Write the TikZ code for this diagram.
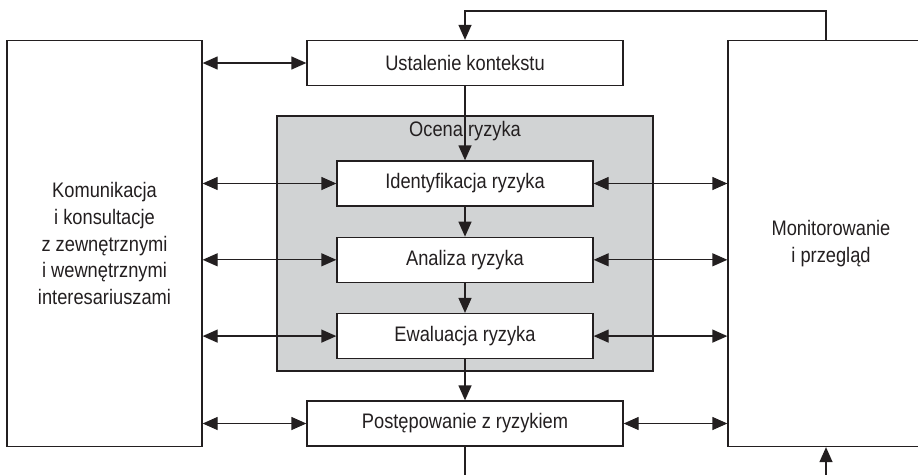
\documentclass[tikz,border=0pt]{standalone}
\usepackage{fontspec}
\setmainfont[FakeStretch=0.87]{Liberation Sans}
\usetikzlibrary{arrows.meta,positioning}
\definecolor{ramka}{RGB}{35,31,32}
\definecolor{ocenagray}{RGB}{209,211,212}

\begin{document}
\begin{tikzpicture}[x=1pt,y=-1pt,<->,>={Triangle[length=15pt,width=13pt]},
                    line width=1.3pt,draw=ramka,text=ramka,
                    font=\fontsize{21}{26.7}\selectfont]
    \tikzstyle{box}=[draw=ramka,fill=white,inner sep=0pt,align=center,
                     minimum width=256pt,minimum height=45pt]
    \clip (0,0) rectangle (918,474);

    \node[box,minimum width=195pt,minimum height=406pt] (kom) at (104.5,243.5)
        {Komunikacja\\i konsultacje\\z zewnętrznymi\\i wewnętrznymi\\interesariuszami};
    \node[box,minimum width=206pt,minimum height=406pt] (mon) at (831,243.5)
        {Monitorowanie\\i przegląd};
    \node[box,fill=ocenagray,minimum width=376pt,minimum height=255pt] (ocena) at (465,243.5) {};
    \node (ocenatxt) at (465,131) {Ocena ryzyka};

    \node[box,minimum width=316pt] (kontekst) at (465,63) {Ustalenie kontekstu};
    \node[box] (ident) at (465,183.5) {Identyfikacja ryzyka};
    \node[box] (analiza) [below=30pt of ident] {Analiza ryzyka};
    \node[box] (ewal) [below=30pt of analiza] {Ewaluacja ryzyka};
    \node[box,minimum width=316pt] (postep) at (465,423.5) {Postępowanie z ryzykiem};

    \coordinate (petla) at (826,11);
    \coordinate (dol) at (465,480);
    \coordinate (dolmon) at (826,480);

    % komunikacja
    \foreach \n in {kontekst,ident,analiza,ewal,postep}
        \draw (kom.east |- \n.west) -- (\n.west);
    % monitorowanie
    \foreach \n in {ident,analiza,ewal,postep}
        \draw (\n.east) -- (mon.west |- \n.east);

    \draw[->] (kontekst) -- (ident);
    \draw[->] (ident) -- (analiza);
    \draw[->] (analiza) -- (ewal);
    \draw[->] (ewal) -- (postep);
    \draw[-] (postep) -- (dol);
    \draw[->] (mon.north -| petla) -- (petla) -| (kontekst.north);
    \draw[->] (dolmon) -- (mon.south -| dolmon);

\end{tikzpicture}
\end{document}
